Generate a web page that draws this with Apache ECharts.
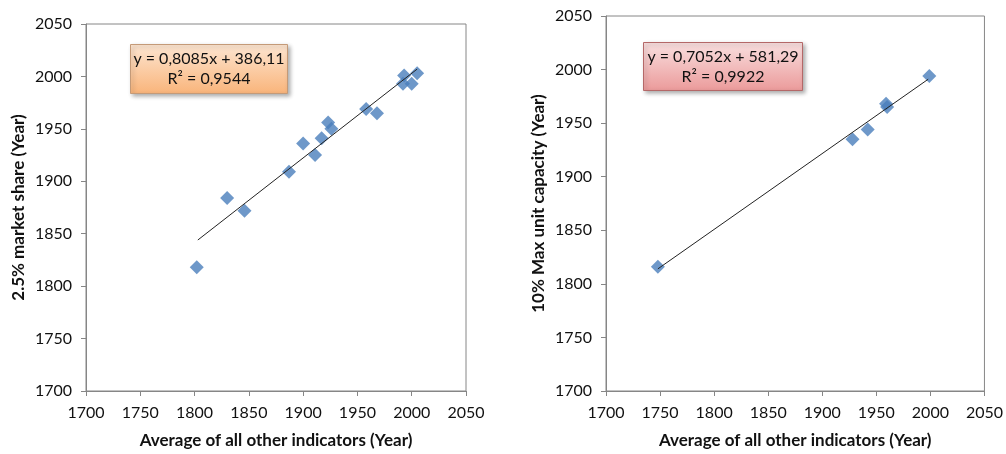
<!DOCTYPE html>
<html>
<head>
<meta charset="utf-8">
<script src="https://cdn.jsdelivr.net/npm/echarts@6/dist/echarts.min.js"></script>
<style>
  html, body { margin: 0; padding: 0; background: #fff; }
  #main { width: 1006px; height: 454px; }
</style>
</head>
<body>
<div id="main"></div>
<script>
// left panel: 2.5% market share vs average of other indicators
const shareX = [1802, 1830, 1846, 1887, 1900, 1911, 1917, 1923, 1926, 1958, 1968, 1993, 1992, 2000, 2005];
const shareY = [1818, 1884, 1872, 1909, 1936, 1925, 1941, 1956, 1950, 1969, 1965, 2001, 1993, 1993, 2003];
const shareTrendX = [1803, 2005];
const shareTrendY = [1844, 2007];

// right panel: 10% max unit capacity
const capX = [1748, 1928, 1942, 1959, 1960, 1999];
const capY = [1816, 1935, 1944, 1968, 1965, 1994];
const capTrendX = [1748, 1998];
const capTrendY = [1814, 1991];

const axisTicks = [1700, 1750, 1800, 1850, 1900, 1950, 2000, 2050];
const eqLeft = ['y = 0,8085x + 386,11', 'R² = 0,9544'];
const eqRight = ['y = 0,7052x + 581,29', 'R² = 0,9922'];

const pairs = (xs, ys) => xs.map((x, i) => [x, ys[i]]);
const font = 'Lato, "Open Sans", sans-serif';
const axisGray = '#868686';

function xAxisCfg(idx) {
  return {
    gridIndex: idx, type: 'value',
    min: axisTicks[0], max: axisTicks[axisTicks.length - 1], interval: 50,
    name: 'Average of all other indicators (Year)', nameLocation: 'middle', nameGap: 41,
    nameTextStyle: { fontFamily: font, fontSize: 17, fontWeight: 'bold', color: '#111' },
    axisLine: { lineStyle: { color: axisGray } },
    axisTick: { show: true, length: 5, lineStyle: { color: axisGray } },
    axisLabel: { margin: 14, fontFamily: font, fontSize: 16, color: '#111', formatter: v => String(v) },
    splitLine: { show: false }
  };
}
function yAxisCfg(idx, name) {
  return {
    gridIndex: idx, type: 'value',
    min: axisTicks[0], max: axisTicks[axisTicks.length - 1], interval: 50,
    name: name, nameLocation: 'middle', nameGap: 59, nameRotate: 90,
    nameTextStyle: { fontFamily: font, fontSize: 17, fontWeight: 'bold', color: '#111' },
    axisLine: { show: true, lineStyle: { color: axisGray } },
    axisTick: { show: true, length: 5, lineStyle: { color: axisGray } },
    axisLabel: { margin: 14, fontFamily: font, fontSize: 16, color: '#111', formatter: v => String(v) },
    splitLine: { show: false }
  };
}
function eqBox(x, y, w, h, lines, top, bottom, border) {
  return {
    type: 'group', left: x, top: y,
    children: [
      {
        type: 'rect', shape: { x: 0, y: 0, width: w, height: h },
        style: {
          fill: new echarts.graphic.LinearGradient(0, 0, 0, 1, [
            { offset: 0, color: top }, { offset: 1, color: bottom }
          ]),
          stroke: border, lineWidth: 1,
          shadowBlur: 4, shadowOffsetX: 2, shadowOffsetY: 2, shadowColor: 'rgba(0,0,0,0.3)'
        }
      },
      { type: 'text', x: w / 2, y: 14, style: { text: lines[0], fill: '#111', font: '16px ' + font, textAlign: 'center', textVerticalAlign: 'middle' } },
      { type: 'text', x: w / 2, y: 34, style: { text: lines[1], fill: '#111', font: '16px ' + font, textAlign: 'center', textVerticalAlign: 'middle' } }
    ]
  };
}

const chart = echarts.init(document.getElementById('main'), null, { renderer: 'canvas' });
chart.setOption({
  animation: false,
  backgroundColor: '#fff',
  grid: [
    { left: 86, top: 24, width: 380, height: 368, show: true, borderColor: axisGray, borderWidth: 1 },
    { left: 606, top: 16, width: 379, height: 375, show: true, borderColor: axisGray, borderWidth: 1 }
  ],
  xAxis: [xAxisCfg(0), xAxisCfg(1)],
  yAxis: [yAxisCfg(0, '2.5% market share (Year)'), yAxisCfg(1, '10% Max unit capacity (Year)')],
  series: [
    {
      type: 'line', xAxisIndex: 0, yAxisIndex: 0, data: pairs(shareTrendX, shareTrendY),
      showSymbol: false, lineStyle: { color: '#222', width: 1 }, z: 3
    },
    {
      type: 'scatter', xAxisIndex: 0, yAxisIndex: 0, data: pairs(shareX, shareY),
      symbol: 'diamond', symbolSize: 14, itemStyle: { color: '#4a7ebb' }, z: 2
    },
    {
      type: 'line', xAxisIndex: 1, yAxisIndex: 1, data: pairs(capTrendX, capTrendY),
      showSymbol: false, lineStyle: { color: '#222', width: 1 }, z: 3
    },
    {
      type: 'scatter', xAxisIndex: 1, yAxisIndex: 1, data: pairs(capX, capY),
      symbol: 'diamond', symbolSize: 14, itemStyle: { color: '#4a7ebb' }, z: 2
    }
  ],
  graphic: [
    eqBox(130, 44, 157, 49, eqLeft, '#fde6d2', '#f9b47a', '#c49a78'),
    eqBox(643, 42, 159, 48, eqRight, '#f9e0e0', '#eb9a9a', '#b46868')
  ]
});
</script>
</body>
</html>
